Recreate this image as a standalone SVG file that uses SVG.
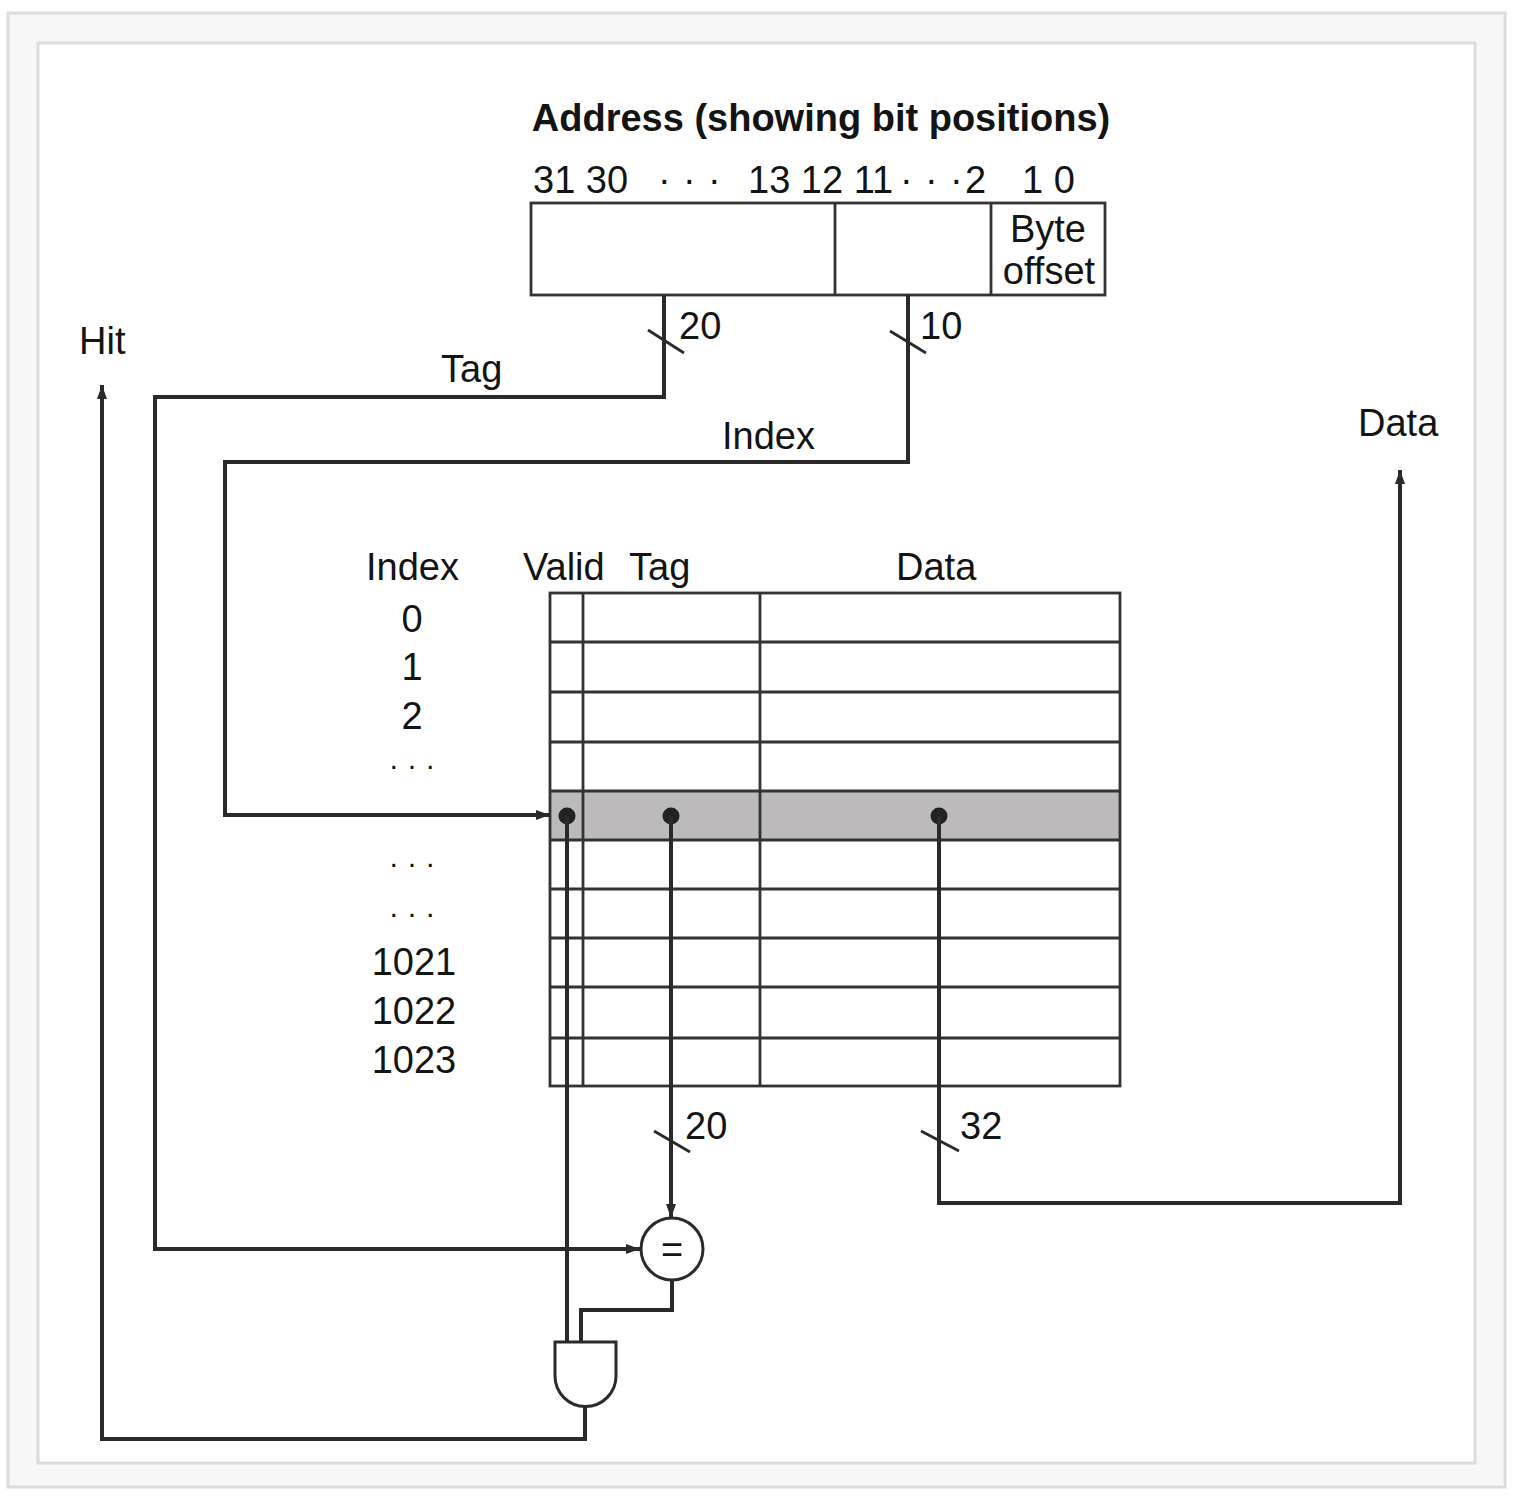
<svg xmlns="http://www.w3.org/2000/svg" width="1518" height="1498" viewBox="0 0 1518 1498">
<style>
text{font-family:"Liberation Sans",Arial,sans-serif;font-size:38px;fill:#141414}
.b{font-weight:bold}
.m{text-anchor:middle}
.dots{font-size:30px}
.wire{fill:none;stroke:#2a2a2a;stroke-width:4;stroke-linejoin:miter}
.grid{fill:none;stroke:#333;stroke-width:2.8}
.box{fill:#fff;stroke:#333;stroke-width:2.8}
.slash{stroke:#2a2a2a;stroke-width:2.8}
.dot{fill:#222}
</style>
<defs>
<marker id="arr" markerUnits="userSpaceOnUse" markerWidth="16" markerHeight="12" refX="14" refY="6" orient="auto">
<path d="M0,1 L14,6 L0,11 Z" fill="#2a2a2a"/>
</marker>
</defs>
<g id="frame">
<rect x="8" y="13" width="1497" height="1474" fill="#f7f7f7" stroke="#dcdcdc" stroke-width="3"/>
<rect x="38" y="43" width="1437" height="1420" fill="#fff" stroke="#dcdcdc" stroke-width="3"/>
</g>
<g id="address">
<text class="b m" x="821" y="131">Address (showing bit positions)</text>
<text x="533" y="193">31 30</text>
<text x="658 683 708" y="193">···</text>
<text x="748" y="193">13 12 11</text>
<text x="900 925 950" y="193">···</text>
<text x="965" y="193">2</text>
<text x="1022" y="193">1 0</text>
<rect class="box" x="531" y="203" width="574" height="92"/>
<line class="grid" x1="835" y1="203" x2="835" y2="295"/>
<line class="grid" x1="991" y1="203" x2="991" y2="295"/>
<text class="m" x="1048" y="242">Byte</text>
<text class="m" x="1049" y="284">offset</text>
</g>
<g id="labels">
<text x="79" y="354">Hit</text>
<text x="441" y="382">Tag</text>
<text x="679" y="339">20</text>
<text x="920" y="339">10</text>
<text x="722" y="449">Index</text>
<text x="1358" y="436">Data</text>
<text x="685" y="1139">20</text>
<text x="960" y="1139">32</text>
</g>
<g id="cache-table">
<text x="366" y="580">Index</text>
<text x="523" y="580">Valid</text>
<text x="629" y="580">Tag</text>
<text x="896" y="580">Data</text>
<text class="m" x="412" y="632">0</text>
<text class="m" x="412" y="680">1</text>
<text class="m" x="412" y="729">2</text>
<text class="m dots" x="412" y="775">· · ·</text>
<text class="m dots" x="412" y="873">· · ·</text>
<text class="m dots" x="412" y="923">· · ·</text>
<text class="m" x="414" y="975">1021</text>
<text class="m" x="414" y="1024">1022</text>
<text class="m" x="414" y="1073">1023</text>
<rect x="550" y="791" width="570" height="49" fill="#bcbabb"/>
<rect class="grid" x="550" y="593" width="570" height="493"/>
<path class="grid" d="M550,642H1120M550,692H1120M550,742H1120M550,791H1120M550,840H1120M550,889H1120M550,938H1120M550,987H1120M550,1038H1120M583,593V1086M760,593V1086"/>
<circle class="dot" cx="567" cy="816" r="8.5"/>
<circle class="dot" cx="671" cy="816" r="8.5"/>
<circle class="dot" cx="939" cy="816" r="8.5"/>
</g>
<g id="connectors">
<path class="wire" d="M664,295V397H155V1249H640" marker-end="url(#arr)"/>
<path class="wire" d="M908,295V462H225V815H550" marker-end="url(#arr)"/>
<path class="wire" d="M671,816V1218" marker-end="url(#arr)"/>
<path class="wire" d="M567,816V1342"/>
<path class="wire" d="M939,816V1203H1400V470" marker-end="url(#arr)"/>
<path class="wire" d="M672,1280V1310H581V1342"/>
<path class="wire" d="M585,1406V1439H102V385" marker-end="url(#arr)"/>
<line class="slash" x1="648" y1="330" x2="684" y2="353"/>
<line class="slash" x1="890" y1="331" x2="926" y2="353"/>
<line class="slash" x1="654" y1="1131" x2="690" y2="1152"/>
<line class="slash" x1="921" y1="1131" x2="959" y2="1151"/>
</g>
<g id="comparator">
<circle cx="672" cy="1249" r="31" fill="#fff" stroke="#2a2a2a" stroke-width="3"/>
<text class="m" x="672" y="1263">=</text>
</g>
<g id="and-gate">
<path d="M555,1342H616V1376A30.5,30.5 0 0 1 555,1376Z" fill="#fff" stroke="#2a2a2a" stroke-width="3"/>
</g>
</svg>
